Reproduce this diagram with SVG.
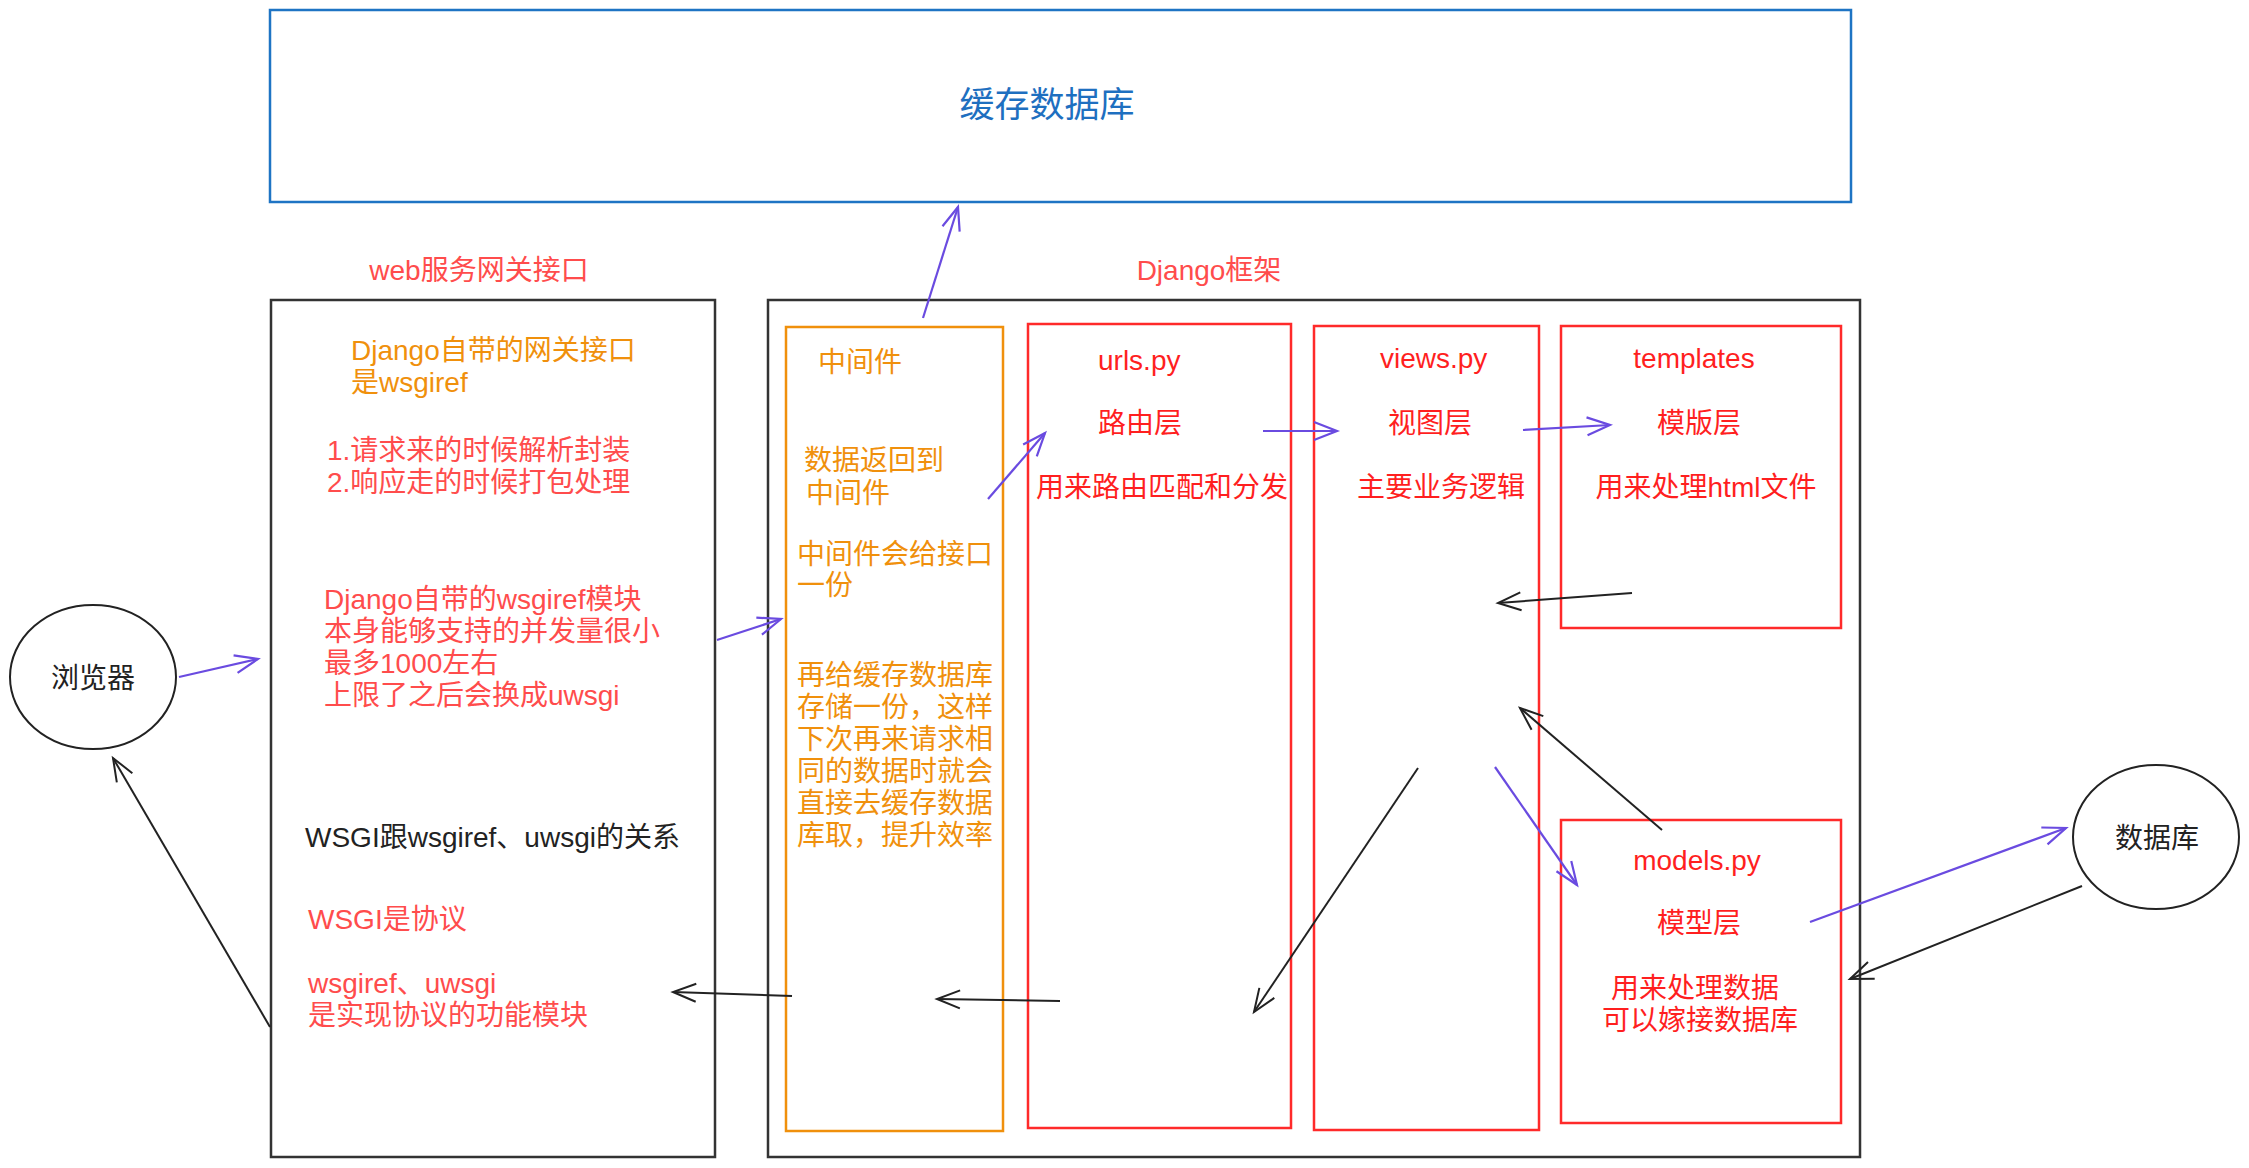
<svg xmlns="http://www.w3.org/2000/svg" width="2249" height="1168" viewBox="0 0 2249 1168">
<style>
text{font-family:"Liberation Sans","Noto Sans CJK SC",sans-serif;font-size:28px}
.box{fill:#fff;stroke:#333;stroke-width:2.5}
.red{fill:none;stroke:#FF2A2A;stroke-width:2.5}
.org{fill:none;stroke:#F0900C;stroke-width:2.5}
.tr{fill:#FF4C4C}
.tr2{fill:#FF1F1F}
.to{fill:#F0900C}
.tk{fill:#222}
.c{text-anchor:middle}
.ap{fill:none;stroke:#6A4BE0;stroke-width:2.2;marker-end:url(#mp)}
.ak{fill:none;stroke:#222;stroke-width:2;marker-end:url(#mk)}
</style>
<defs>
<marker id="mp" markerUnits="userSpaceOnUse" markerWidth="30" markerHeight="24" refX="25" refY="11" orient="auto"><path d="M2,2 L25,11 L2,20" fill="none" stroke="#6A4BE0" stroke-width="2.2"/></marker>
<marker id="mk" markerUnits="userSpaceOnUse" markerWidth="30" markerHeight="24" refX="25" refY="11" orient="auto"><path d="M2,2 L25,11 L2,20" fill="none" stroke="#222" stroke-width="2"/></marker>
</defs>
<rect width="2249" height="1168" fill="#fff"/>
<g id="cache">
<rect x="270" y="10" width="1581" height="192" fill="#fff" stroke="#1E74C4" stroke-width="2.5"/>
<text x="1047" y="117" class="c" style="font-size:35px;fill:#1E6FC0">缓存数据库</text>
</g>
<g id="web-label"><text x="479" y="280" class="c tr">web服务网关接口</text></g>
<g id="django-label"><text x="1209" y="280" class="c tr">Django框架</text></g>
<g id="web">
<rect x="271" y="300" width="444" height="857" class="box"/>
<text x="351" y="360" class="to">Django自带的网关接口</text>
<text x="351" y="392" class="to">是wsgiref</text>
<text x="327" y="460" class="tr">1.请求来的时候解析封装</text>
<text x="327" y="492" class="tr">2.响应走的时候打包处理</text>
<text x="324" y="609" class="tr">Django自带的wsgiref模块</text>
<text x="324" y="641" class="tr">本身能够支持的并发量很小</text>
<text x="324" y="673" class="tr">最多1000左右</text>
<text x="324" y="705" class="tr">上限了之后会换成uwsgi</text>
<text x="305" y="847" class="tk">WSGI跟wsgiref、uwsgi的关系</text>
<text x="308" y="929" class="tr">WSGI是协议</text>
<text x="308" y="993" class="tr">wsgiref、uwsgi</text>
<text x="308" y="1025" class="tr">是实现协议的功能模块</text>
</g>
<g id="django"><rect x="768" y="300" width="1092" height="857" class="box"/></g>
<g id="middleware">
<rect x="786" y="327" width="217" height="804" class="org"/>
<text x="818" y="372" class="to">中间件</text>
<text x="804" y="470" class="to">数据返回到</text>
<text x="806" y="503" class="to">中间件</text>
<text x="797" y="564" class="to">中间件会给接口</text>
<text x="797" y="595" class="to">一份</text>
<text x="797" y="685" class="to">再给缓存数据库</text>
<text x="797" y="717" class="to">存储一份，这样</text>
<text x="797" y="749" class="to">下次再来请求相</text>
<text x="797" y="781" class="to">同的数据时就会</text>
<text x="797" y="813" class="to">直接去缓存数据</text>
<text x="797" y="845" class="to">库取，提升效率</text>
</g>
<g id="urls">
<rect x="1028" y="324" width="263" height="804" class="red"/>
<text x="1098" y="370" class="tr2">urls.py</text>
<text x="1098" y="433" class="tr2">路由层</text>
<text x="1036" y="497" class="tr2">用来路由匹配和分发</text>
</g>
<g id="views">
<rect x="1314" y="326" width="225" height="804" class="red"/>
<text x="1380" y="368" class="tr2">views.py</text>
<text x="1388" y="433" class="tr2">视图层</text>
<text x="1357" y="497" class="tr2">主要业务逻辑</text>
</g>
<g id="templates">
<rect x="1561" y="326" width="280" height="302" class="red"/>
<text x="1694" y="368" class="c tr2">templates</text>
<text x="1699" y="433" class="c tr2">模版层</text>
<text x="1706" y="497" class="c tr2">用来处理html文件</text>
</g>
<g id="models">
<rect x="1561" y="820" width="280" height="303" class="red"/>
<text x="1697" y="870" class="c tr2">models.py</text>
<text x="1699" y="933" class="c tr2">模型层</text>
<text x="1695" y="998" class="c tr2">用来处理数据</text>
<text x="1700" y="1030" class="c tr2">可以嫁接数据库</text>
</g>
<g id="browser">
<ellipse cx="93" cy="677" rx="83" ry="72" fill="#fff" stroke="#222" stroke-width="2"/>
<text x="93" y="688" class="c tk">浏览器</text>
</g>
<g id="database">
<ellipse cx="2156" cy="837" rx="83" ry="72" fill="#fff" stroke="#222" stroke-width="2"/>
<text x="2157" y="848" class="c tk">数据库</text>
</g>
<g id="connectors">
<path d="M179,677 L258,659" class="ap"/>
<path d="M717,640 L781,619" class="ap"/>
<path d="M923,318 L958,207" class="ap"/>
<path d="M988,499 L1045,433" class="ap"/>
<path d="M1263,431 L1337,431" class="ap"/>
<path d="M1523,430 L1610,425" class="ap"/>
<path d="M1495,767 L1577,885" class="ap"/>
<path d="M1810,922 L2066,828" class="ap"/>
<path d="M1632,593 L1498,603" class="ak"/>
<path d="M1662,830 L1520,708" class="ak"/>
<path d="M2082,886 L1850,979" class="ak"/>
<path d="M1418,768 L1254,1012" class="ak"/>
<path d="M1060,1001 L937,999" class="ak"/>
<path d="M792,996 L673,992" class="ak"/>
<path d="M270,1027 L113,758" class="ak"/>
</g>
</svg>
